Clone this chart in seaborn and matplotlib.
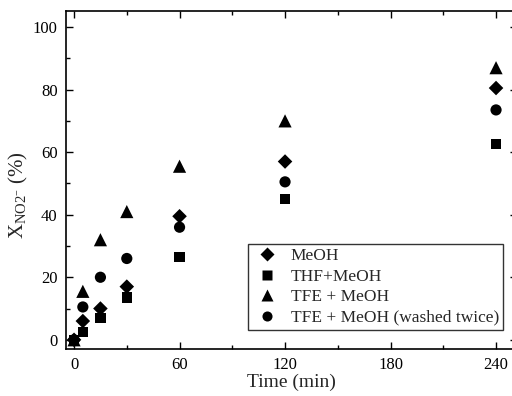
import matplotlib
matplotlib.use("Agg")
import matplotlib.pyplot as plt
import seaborn as sns
import pandas as pd
from matplotlib.ticker import MultipleLocator

time = [0, 5, 15, 30, 60, 120, 240]
meoh = [0, 6, 10, 17, 39.5, 57, 80.5]
thf_meoh = [0, 2.5, 7, 13.5, 26.5, 45, 62.5]
tfe_meoh = [0, 15.5, 32, 41, 55.5, 70, 87]
tfe_washed = [0, 10.5, 20, 26, 36, 50.5, 73.5]
labels = ["MeOH", "THF+MeOH", "TFE + MeOH", "TFE + MeOH (washed twice)"]
markers = ["D", "s", "^", "o"]
msizes = [55, 55, 90, 65]

rows = []
for lab, vals in zip(labels, [meoh, thf_meoh, tfe_meoh, tfe_washed]):
    for t, v in zip(time, vals):
        rows.append({"Time": t, "X": v, "Series": lab})
df = pd.DataFrame(rows)

sns.set_theme(style="ticks")
plt.rcParams["font.family"] = ["Liberation Serif", "DejaVu Serif"]
plt.rcParams["mathtext.fontset"] = "custom"
plt.rcParams["mathtext.rm"] = "Liberation Serif"
plt.rcParams["mathtext.it"] = "Liberation Serif:italic"

fig = plt.figure(figsize=(5.12, 3.96), dpi=100)
ax = fig.add_axes([0.129, 0.119, 0.88, 0.853])

sns.scatterplot(data=df, x="Time", y="X", hue="Series", style="Series", size="Series",
                hue_order=labels, style_order=labels, size_order=labels,
                palette=["black"] * 4, markers=dict(zip(labels, markers)),
                sizes=dict(zip(labels, msizes)),
                edgecolor="none", ax=ax, zorder=3)

ax.set_xlim(-4.55, 251.7)
ax.set_ylim(-2.9, 105.1)
ax.xaxis.set_major_locator(MultipleLocator(60))
ax.xaxis.set_minor_locator(MultipleLocator(30))
ax.yaxis.set_major_locator(MultipleLocator(20))
ax.yaxis.set_minor_locator(MultipleLocator(10))
ax.tick_params(which="both", direction="in", top=True, right=True,
               labelsize=12, colors="black", width=1.0)
ax.tick_params(which="major", length=5, pad=6)
ax.tick_params(which="minor", length=3)
for sp in ax.spines.values():
    sp.set_color("black")
    sp.set_linewidth(1.2)

ax.set_xlabel("Time (min)", fontsize=14, labelpad=0)
ax.set_ylabel(r"X$_{\mathregular{NO2}^{\mathregular{-}}}$ (%)", fontsize=15, labelpad=1)
ax.yaxis.set_label_coords(-0.08, 0.455)

leg = ax.legend(loc="lower right", bbox_to_anchor=(0.97, 0.056), frameon=True,
                fancybox=False, edgecolor="black", fontsize=12.5,
                handletextpad=0.58, borderpad=0.25, labelspacing=0.25,
                borderaxespad=0, handlelength=1.6, markerscale=0.9)
leg.get_frame().set_linewidth(1.0)

fig.savefig("out.png", dpi=100)
